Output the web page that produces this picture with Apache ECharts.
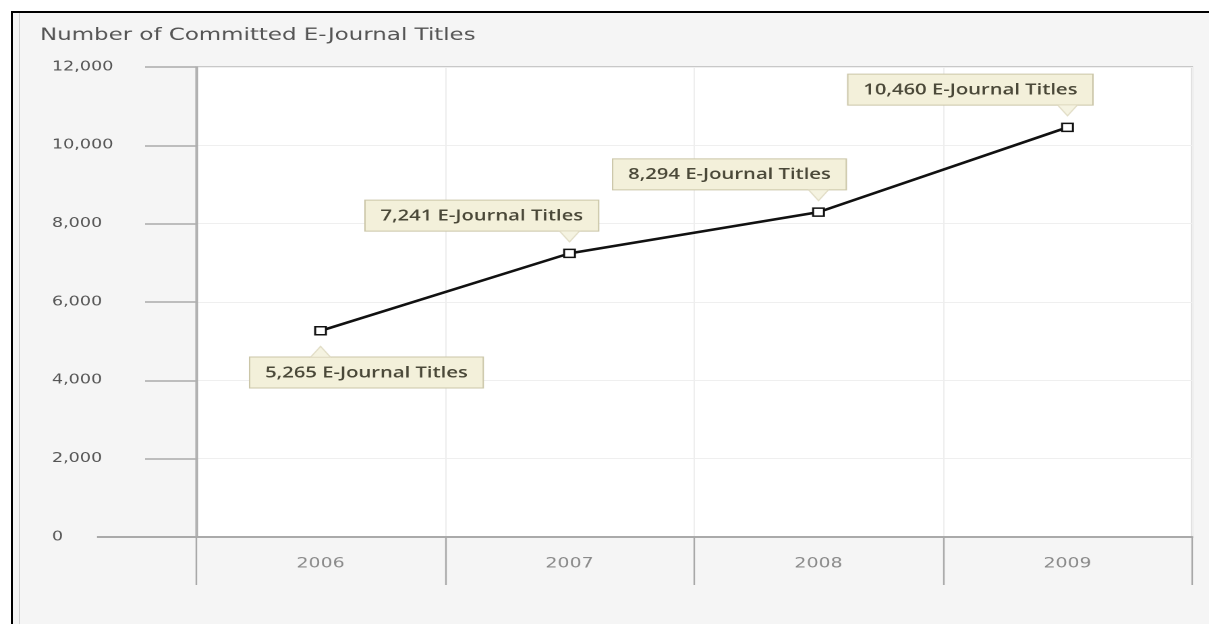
<!DOCTYPE html>
<html>
<head>
<meta charset="utf-8">
<script src="https://cdn.jsdelivr.net/npm/echarts@6/dist/echarts.min.js"></script>
<style>
html,body{margin:0;padding:0;background:#fff;width:1209px;height:624px;overflow:hidden;}
#frame{position:absolute;left:11px;top:11px;width:1198px;height:613px;border-top:2px solid #000;border-left:2px solid #000;background:#f5f5f5;box-sizing:border-box;}
#inner{position:absolute;left:6px;top:0;bottom:0;width:1px;background:#d2d2d2;}
/* the reference image is horizontally stretched; draw at 896px and stretch to 1209px */
#chart{position:absolute;left:0;top:0;width:896px;height:624px;transform-origin:0 0;transform:scaleX(1.349330);}
</style>
</head>
<body>
<div id="frame"><div id="inner"></div></div>
<div id="chart"></div>
<script>
// ---- data ----
const years = ['2006', '2007', '2008', '2009'];
const titles = [5265, 7241, 8294, 10460];
const labelSuffix = ' E-Journal Titles';
const chartTitle = 'Number of Committed E-Journal Titles';

// ---- label styling per point (placement / offsets only) ----
const labelPlacement = ['bottom', 'top', 'top', 'top'];
const labelShiftX = [34, -65, -66, -72];

const fmt = v => Number(v).toLocaleString('en-US');

const chart = echarts.init(document.getElementById('chart'), null, {renderer: 'canvas', devicePixelRatio: 2});

const lineData = titles.map((v, i) => ({
  value: v,
  label: {
    position: labelPlacement[i],
    distance: labelPlacement[i] === 'bottom' ? 22 : 18,
    offset: [labelShiftX[i], 0]
  }
}));

const pointerData = titles.map((v, i) => ({
  value: v,
  symbolRotate: labelPlacement[i] === 'bottom' ? 0 : 180,
  symbolOffset: [0, labelPlacement[i] === 'bottom' ? 21 : -17]
}));

const gridLeft = 145.3;

const option = {
  backgroundColor: 'transparent',
  animation: false,
  title: {
    text: chartTitle,
    left: 24.6,
    top: 22,
    textStyle: {fontFamily: 'DejaVu Sans', fontSize: 17, fontWeight: 'normal', color: '#555'}
  },
  grid: {
    left: gridLeft, right: 12.6, top: 67, bottom: 87,
    show: true, backgroundColor: '#fff', borderColor: '#b8b8b8', borderWidth: 1.4,
    containLabel: false
  },
  xAxis: {
    type: 'category',
    data: years,
    boundaryGap: true,
    axisLine: {show: true, lineStyle: {color: '#aaa', width: 2}},
    axisTick: {show: true, length: 48, interval: 0, lineStyle: {color: '#a8a8a8', width: 1.2}},
    axisLabel: {margin: 20, color: '#8a8a8a', fontSize: 14, fontFamily: 'DejaVu Sans'},
    splitLine: {show: true, interval: 0, lineStyle: {color: '#eeeeee', width: 1}}
  },
  yAxis: {
    type: 'value',
    min: 0, max: 12000, interval: 2000,
    axisLine: {show: true, lineStyle: {color: '#aaa', width: 1.5}},
    axisTick: {show: true, length: 37.8, lineStyle: {color: '#aaa', width: 1.5}},
    axisLabel: {
      align: 'left', margin: 106.8, color: '#555', fontSize: 13, fontFamily: 'DejaVu Sans',
      formatter: v => fmt(v)
    },
    splitLine: {show: true, lineStyle: {color: '#efefef', width: 1}}
  },
  series: [
    {
      type: 'scatter',
      data: pointerData,
      symbol: 'triangle',
      symbolSize: [15, 11],
      itemStyle: {color: '#f3f0da', borderColor: '#dcd7bd', borderWidth: 1},
      z: 4,
      silent: true
    },
    {
      type: 'line',
      data: lineData,
      symbol: 'rect',
      symbolSize: 8,
      showAllSymbol: true,
      itemStyle: {color: '#fff', borderColor: '#111', borderWidth: 1.5},
      lineStyle: {color: '#111', width: 2.5},
      z: 3,
      label: {
        show: true,
        formatter: p => fmt(p.value) + labelSuffix,
        fontFamily: 'Open Sans',
        fontSize: 15,
        fontWeight: 600,
        color: '#4a4838',
        backgroundColor: '#f3f0da',
        borderColor: '#cbc6a8',
        borderWidth: 1,
        padding: [8, 11, 7, 11]
      }
    }
  ]
};

chart.setOption(option);

// extend the zero baseline to the left as in the reference
const y0 = chart.convertToPixel({yAxisIndex: 0}, 0);
chart.setOption({
  graphic: [{
    type: 'line',
    shape: {x1: 71.9, y1: y0, x2: gridLeft, y2: y0},
    style: {stroke: '#aaa', lineWidth: 2},
    z: 10
  }]
});
</script>
</body>
</html>
